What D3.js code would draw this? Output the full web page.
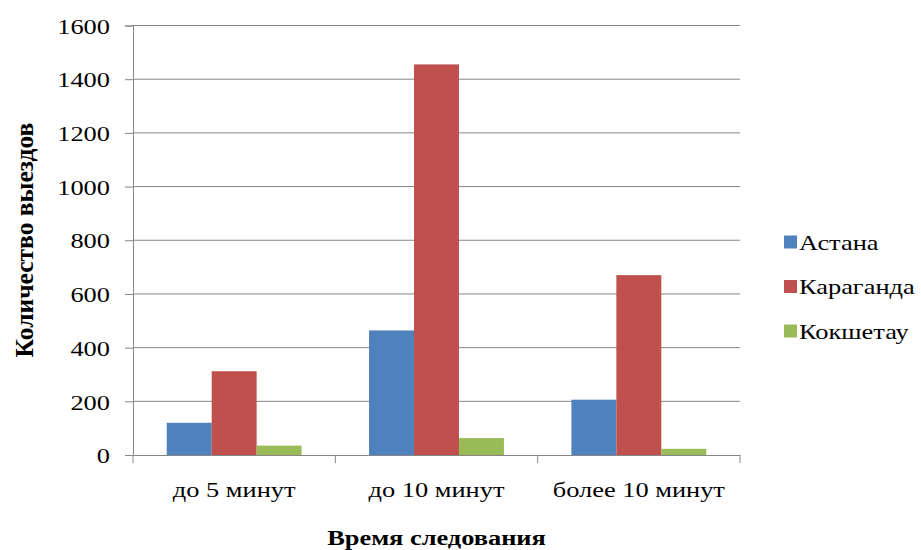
<!DOCTYPE html>
<html><head><meta charset="utf-8">
<script src="https://cdn.jsdelivr.net/npm/d3@7"></script>
<style>body{margin:0;background:#fff}svg{display:block}text{font-family:"Liberation Serif","Times New Roman",serif;fill:#000}</style>
</head><body><svg id="c" width="921" height="550"></svg>
<script>
const categories = ["до 5 минут", "до 10 минут", "более 10 минут"];
const seriesNames = ["Астана", "Караганда", "Кокшетау"];
const astana = [120, 464, 206];
const karaganda = [312, 1455, 670];
const kokshetau = [35, 63, 23];
const yTicks = [0, 200, 400, 600, 800, 1000, 1200, 1400, 1600];
const colors = ["#4f81bd", "#c0504d", "#9bbb59"];
const series = [astana, karaganda, kokshetau];

const svg = d3.select("#c");
const L = 133, R = 740, T = 25.5, B = 455;
const x = d3.scaleBand().domain(categories).range([L, R]).paddingInner(0).paddingOuter(0);
const y = d3.scaleLinear().domain([0, 1600]).range([B, T]);
const sub = d3.scaleBand().domain(seriesNames).range([0, x.bandwidth()]).paddingOuter(0.75).paddingInner(0);
const SX = 1.2;

// gridlines
svg.append("g").selectAll("line").data(yTicks.slice(1)).join("line")
  .attr("x1", L).attr("x2", R).attr("y1", d => y(d)).attr("y2", d => y(d))
  .attr("stroke", "#868686").attr("stroke-width", 1);

// bars
seriesNames.forEach((s, i) => {
  svg.append("g").selectAll("rect").data(categories).join("rect")
    .attr("x", c => x(c) + sub(s)).attr("width", sub.bandwidth())
    .attr("y", (c, j) => y(series[i][j])).attr("height", (c, j) => B - y(series[i][j]))
    .attr("fill", colors[i]);
});

// y axis
const ya = svg.append("g").attr("transform", `translate(${L},0)`)
  .call(d3.axisLeft(y).tickValues(yTicks).tickSize(8).tickFormat(d3.format("d")));
ya.attr("font-family", null).attr("font-size", null);
ya.select(".domain").attr("stroke", "#868686");
ya.selectAll(".tick line").attr("stroke", "#868686");
ya.selectAll(".tick text").attr("font-size", 22).attr("fill", "#000")
  .attr("x", 0).attr("dy", "0.35em").attr("text-anchor", "end")
  .attr("transform", `translate(-23,0) scale(${SX},1)`);

// x axis
const xa = svg.append("g").attr("transform", `translate(0,${B})`)
  .call(d3.axisBottom(x).tickSize(0).tickPadding(0));
xa.select(".domain").attr("stroke", "#868686");
xa.selectAll(".tick text").remove();
svg.append("g").selectAll("line").data(categories.map(c => x(c)).concat([R])).join("line")
  .attr("x1", d => d).attr("x2", d => d).attr("y1", B).attr("y2", B + 8).attr("stroke", "#868686");
svg.append("g").selectAll("text").data(categories).join("text")
  .attr("transform", c => `translate(${x(c) + x.bandwidth()/2},497) scale(${SX},1)`)
  .attr("text-anchor", "middle").attr("font-size", 22).text(c => c);

// axis titles
svg.append("text").attr("transform", `translate(${(L+R)/2},545) scale(${SX},1)`)
  .attr("text-anchor", "middle").attr("font-size", 22).attr("font-weight", "bold").text("Время следования");
svg.append("text").attr("transform", `translate(33,240) rotate(-90)`)
  .attr("text-anchor", "middle").attr("font-size", 25.5).attr("font-weight", "bold").text("Количество выездов");

// legend
const lg = svg.append("g");
seriesNames.forEach((s, i) => {
  const cy = 242 + i * 44.5;
  lg.append("rect").attr("x", 784).attr("y", cy - 6.5).attr("width", 13).attr("height", 13).attr("fill", colors[i]);
  lg.append("text").attr("transform", `translate(799,${cy}) scale(${SX},1)`).attr("dy", "0.35em")
    .attr("font-size", 22).text(s);
});
</script></body></html>
